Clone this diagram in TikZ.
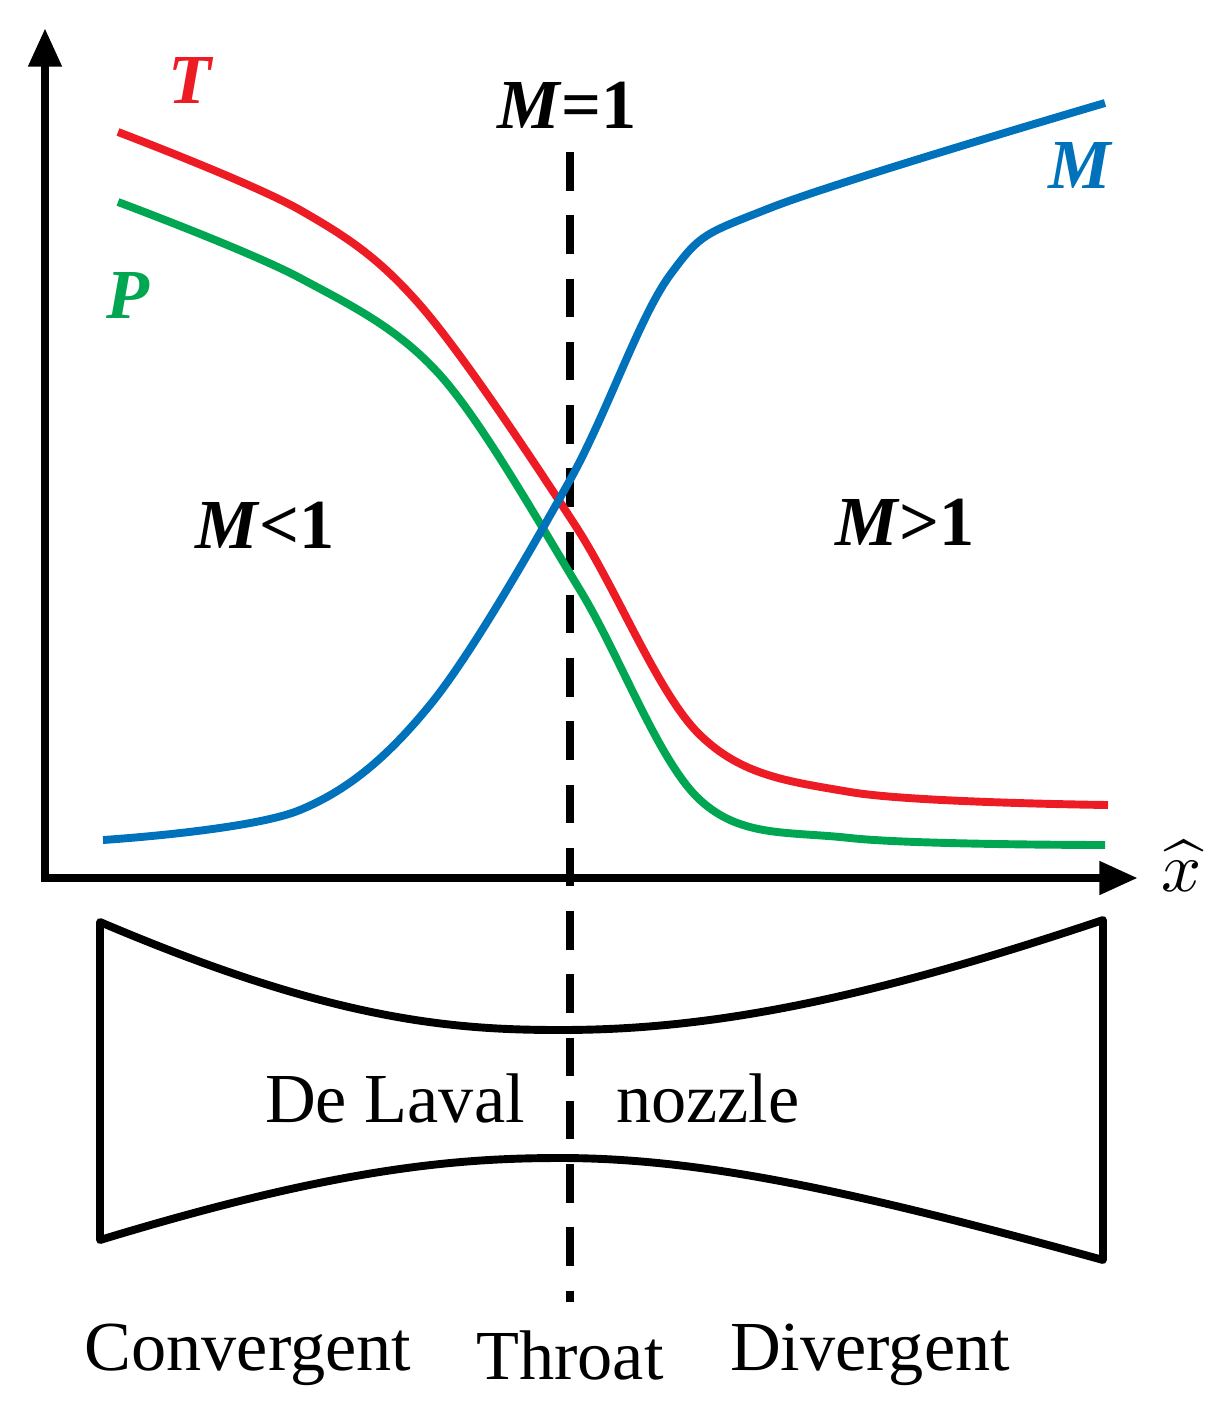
\documentclass[tikz,border=0pt]{standalone}
\usepackage{fontspec}
\setmainfont{Liberation Serif}
\usetikzlibrary{arrows.meta}
\definecolor{cT}{RGB}{237,28,36}
\definecolor{cP}{RGB}{0,166,81}
\definecolor{cM}{RGB}{0,114,188}
\tikzset{curve/.style={line width=4.5pt,smooth,tension=0.55},
lbl/.style={font=\fontsize{40}{44}\selectfont\bfseries\itshape},
txt/.style={font=\fontsize{40}{44}\selectfont},
axis/.style={line width=5pt,-{Triangle[length=22pt,width=18pt]}}}
\begin{document}
\begin{tikzpicture}[x=0.02cm,y=-0.02cm]
\useasboundingbox (0,0) rectangle (1214,1407);
\coordinate (o) at (45,878);
\coordinate (ytop) at (45,28);
\coordinate (xend) at (1138,878);
\draw[axis] (o) -- (ytop);
\draw[axis] ([xshift=-2.5pt]o) -- (xend);
\node[scale=4.0,inner sep=0pt] (xh) at (1182,866) {$\widehat{x}$};
\coordinate (d1) at (570,152);
\coordinate (d2) at (570,1302);
\draw[line width=4.5pt,dash pattern=on 22pt off 14pt] (d1) -- (d2);
\draw[curve,cT] plot coordinates {(118,132) (300,210) (420,305) (575,525) (700,735) (850,792) (1108,805)};
\draw[curve,cP] plot coordinates {(118,202) (300,278) (440,375) (580,590) (700,800) (850,838) (1105,845)};
\draw[curve,cM] plot coordinates {(103,840) (300,810) (430,705) (570,480) (670,275) (770,208) (1105,103)};
% nozzle
\draw[line width=4.5pt,line join=round] (100,922) .. controls (330,1020) and (450,1030) .. (560,1030) .. controls (700,1030) and (850,1005) .. (1103,920) -- (1103,1260) .. controls (850,1190) and (700,1158) .. (560,1158) .. controls (450,1158) and (330,1170) .. (100,1240) -- cycle;
\node[lbl,cT] (T) at (190,80) {T};
\node[lbl] (M1) at (567,105) {M\textup{=1}};
\node[lbl,cM] (M) at (1080,165) {M};
\node[lbl,cP] (P) at (128,295) {P};
\node[lbl] (Ml) at (265,525) {M\textup{<1}};
\node[lbl] (Mg) at (905,522) {M\textup{>1}};
\node[txt] (dl) at (395,1098) {De Laval};
\node[txt] (nz) at (708,1098) {nozzle};
\node[txt] (cv) at (248,1355) {Convergent};
\node[txt] (th) at (570,1355) {Throat};
\node[txt] (dv) at (870,1355) {Divergent};
\end{tikzpicture}
\end{document}
